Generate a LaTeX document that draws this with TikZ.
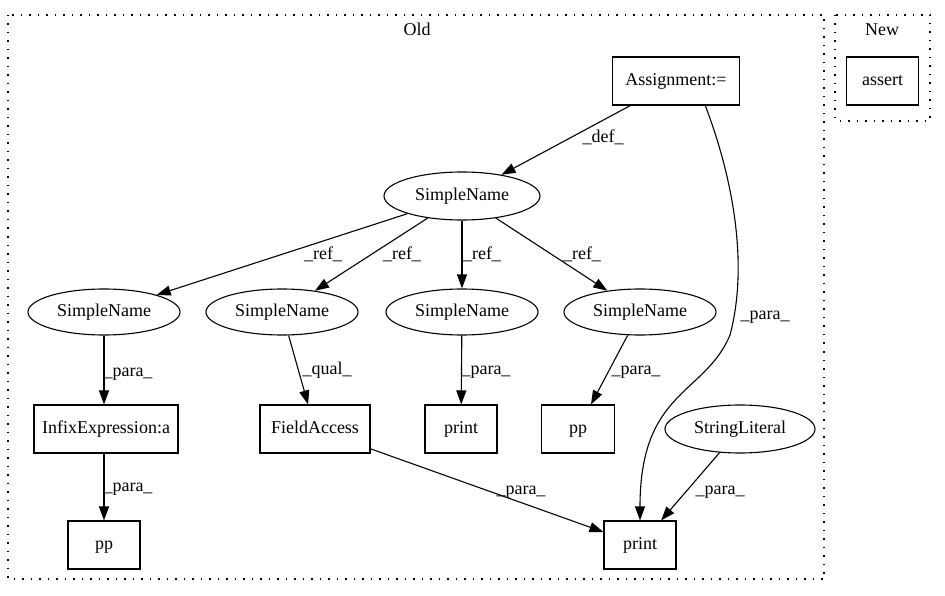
\documentclass[tikz,border=0pt]{standalone}
\usepackage{fontspec}
\setmainfont{Liberation Serif}
\usetikzlibrary{arrows.meta,shapes.geometric}
\begin{document}
\begin{tikzpicture}[x=1pt,y=-1pt, font=\fontsize{18}{21}\selectfont,
 box/.style={draw, line width=1.1pt, rectangle, minimum width=72pt, minimum height=48pt, inner sep=0pt, text height=12.5pt, text depth=4pt},
 ell/.style={draw, line width=1.1pt, ellipse, minimum width=152pt, minimum height=46pt, inner sep=0pt, text height=12.5pt, text depth=4pt},
 edge/.style={line width=1.1pt, -{Triangle[length=14pt,width=10pt]}},
 lab/.style={inner sep=0pt, text height=12.5pt, text depth=4pt},
 cluster/.style={line width=1.3pt, dash pattern=on 1.5pt off 7pt}]
\useasboundingbox (0,0) rectangle (945,596);
% clusters
\draw[cluster] (8,15) rectangle (824,579);
\node[lab] (oldlab) at (417,31) {Old};
\draw[cluster] (835,15) rectangle (930,121);
\node[lab] (newlab) at (882,31) {New};
% nodes
\node[box, minimum width=127pt] (asg) at (676,81) {Assignment:=};
\node[box] (assert) at (882.5,81) {assert};
\node[ell, minimum width=156pt, minimum height=48pt] (sn0) at (462,196) {SimpleName};
\node[ell] (sn1) at (104,312) {SimpleName};
\node[ell] (sn2) at (282,312) {SimpleName};
\node[ell] (sn3) at (462,312) {SimpleName};
\node[ell] (sn4) at (640,312) {SimpleName};
\node[box, minimum width=144pt] (infix) at (106,429) {InfixExpression:a};
\node[box, minimum width=110pt] (fa) at (315,429) {FieldAccess};
\node[box] (print1) at (461,429) {print};
\node[box, minimum width=73pt] (pp2) at (578,429) {pp};
\node[ell, minimum width=150pt, minimum height=48pt] (sl) at (740,429) {StringLiteral};
\node[box] (pp1) at (104,545) {pp};
\node[box] (print2) at (640,545) {print};
% edges
\draw[edge] (asg) -- (sn0) node[lab, at={(603,138)}] {\_def\_};
\draw[edge] (asg.-40) .. controls (730,170) and (750,260) .. (730,335)
  .. controls (705,395) and (640,390) .. (print2.north)
  node[lab, at={(765,315)}] {\_para\_};
\draw[edge] (sn0) -- (sn1) node[lab, at={(323,255)}] {\_ref\_};
\draw[edge] (sn0) -- (sn2) node[lab, at={(402,255)}] {\_ref\_};
\draw[edge] (sn0) -- (sn3) node[lab, at={(482,255)}] {\_ref\_};
\draw[edge] (sn0) -- (sn4) node[lab, at={(582,255)}] {\_ref\_};
\draw[edge] (sn1.south) -- (infix.north -| sn1.south) node[lab, at={(128,372)}] {\_para\_};
\draw[edge] (sn2) -- (fa) node[lab, at={(327,370)}] {\_qual\_};
\draw[edge] (sn3) -- (print1) node[lab, at={(486,370)}] {\_para\_};
\draw[edge] (sn4) -- (pp2) node[lab, at={(636,370)}] {\_para\_};
\draw[edge] (infix.south -| sn1.south) -- (pp1.north) node[lab, at={(128,487)}] {\_para\_};
\draw[edge] (fa) -- (print2) node[lab, at={(521,490)}] {\_para\_};
\draw[edge] (sl) -- (print2) node[lab, at={(720,490)}] {\_para\_};
\end{tikzpicture}
\end{document}
